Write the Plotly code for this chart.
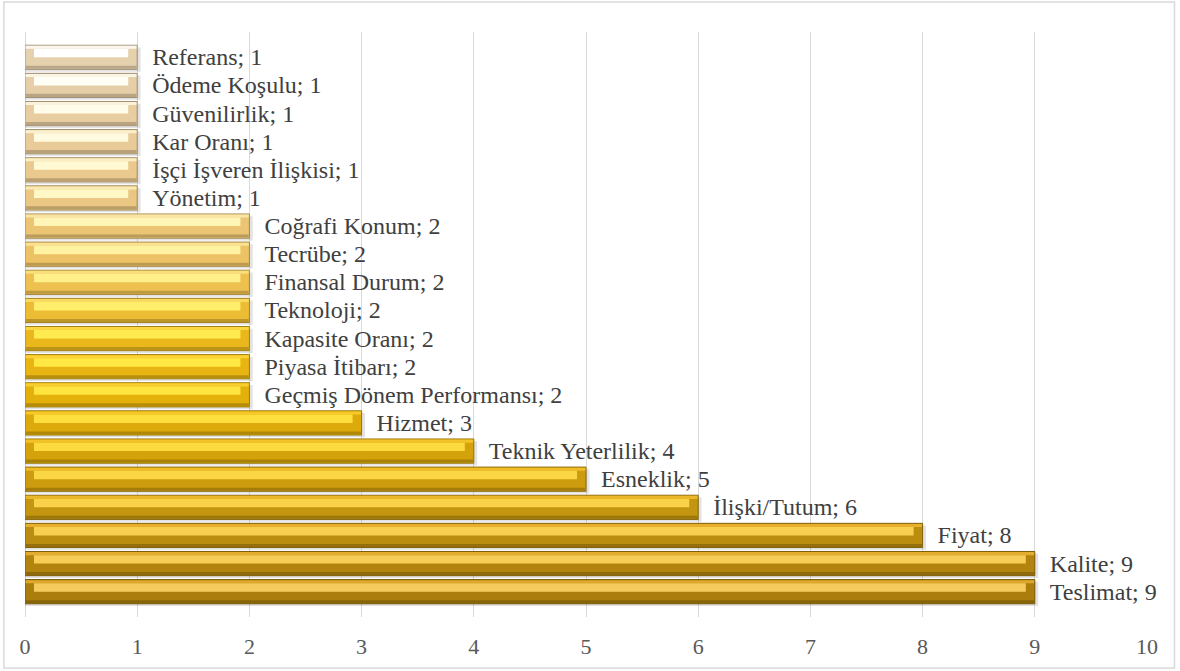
import plotly.graph_objects as go

# Data (bottom -> top)
categories = ["Teslimat", "Kalite", "Fiyat", "İlişki/Tutum", "Esneklik", "Teknik Yeterlilik",
              "Hizmet", "Geçmiş Dönem Performansı", "Piyasa İtibarı", "Kapasite Oranı",
              "Teknoloji", "Finansal Durum", "Tecrübe", "Coğrafi Konum", "Yönetim",
              "İşçi İşveren İlişkisi", "Kar Oranı", "Güvenilirlik", "Ödeme Koşulu", "Referans"]
values = [9, 9, 8, 6, 5, 4, 3, 2, 2, 2, 2, 2, 2, 2, 1, 1, 1, 1, 1, 1]
tick_vals = [0, 1, 2, 3, 4, 5, 6, 7, 8, 9, 10]

# Styles (per bar)
hi_colors = ["#F6CB5E", "#F7CD58", "#F8CF50", "#FAD24A", "#FBD644", "#FCDA40", "#FEDE3C",
             "#FFE33E", "#FFE744", "#FFEA50", "#FFEE6C", "#FFF08A", "#FFF3A2", "#FFF5B6",
             "#FFF7C6", "#FFF9D4", "#FFFBE0", "#FFFCEA", "#FFFEF4", "#FFFFFF"]
body_colors = ["#AA7D0C", "#B2840E", "#BA8C10", "#C49510", "#CC9C0E", "#D4A30C", "#DCAA0A",
               "#E4B10C", "#E8B512", "#EAB81C", "#ECBC34", "#EDC050", "#ECC264", "#EBC474",
               "#EAC782", "#E9C98E", "#E8CB98", "#E7CDA0", "#E6CFA8", "#E6D1AE"]
top_colors = ["#DEA82C", "#E2AC2E", "#E6B02C", "#EAB62A", "#EEBC28", "#F2C226", "#F6C828",
              "#F8CE2E", "#FAD236", "#FAD642", "#FADA5E", "#FADE7A", "#FAE292", "#FAE6A4",
              "#FAEAB4", "#FAEEC2", "#FAF0CE", "#FAF2DA", "#FAF4E4", "#FAF6EC"]


def darken(hex_color, f):
    h = hex_color.lstrip("#")
    r, g, b = (int(h[i:i + 2], 16) for i in (0, 2, 4))
    return "#%02X%02X%02X" % (int(r * f), int(g * f), int(b * f))


dark_colors = [darken(c, 0.80) for c in body_colors]
edge_colors = [darken(c, 0.70) for c in body_colors]

FONT = "Liberation Serif, Times New Roman, serif"
W = 0.86
bevel = 0.08

labels = ["\u00a0\u00a0" + c + "; " + str(v) for c, v in zip(categories, values)]

fig = go.Figure()

# soft shadow
fig.add_trace(go.Bar(
    y=categories, x=[v + 0.03 for v in values], orientation="h",
    offset=-W / 2 - 0.08, width=W,
    marker=dict(color="rgba(80,80,80,0.16)", line=dict(width=0)),
    hoverinfo="skip", showlegend=False))

# full bar with label
fig.add_trace(go.Bar(
    y=categories, x=values, orientation="h",
    offset=-W / 2, width=W,
    marker=dict(color=body_colors, line=dict(color=edge_colors, width=1)),
    text=labels, textposition="outside", constraintext="none", cliponaxis=False,
    textfont=dict(family=FONT, size=24, color="#404040"),
    hoverinfo="skip", showlegend=False))

# bottom facet
fig.add_trace(go.Bar(
    y=categories, x=[v - 0.012 for v in values], base=0.006, orientation="h",
    offset=-W / 2 + 0.02, width=0.11,
    marker=dict(color=dark_colors, line=dict(width=0)),
    hoverinfo="skip", showlegend=False))

# top facet
fig.add_trace(go.Bar(
    y=categories, x=[v - 0.012 for v in values], base=0.006, orientation="h",
    offset=W / 2 - 0.13, width=0.11,
    marker=dict(color=top_colors, line=dict(width=0)),
    hoverinfo="skip", showlegend=False))

# highlight band
fig.add_trace(go.Bar(
    y=categories, x=[v - 2 * bevel for v in values], base=bevel, orientation="h",
    offset=0.0, width=W / 2 - 0.13,
    marker=dict(color=hi_colors, line=dict(width=0)),
    hoverinfo="skip", showlegend=False))

fig.update_layout(
    width=1180, height=671,
    margin=dict(l=25, r=33, t=32, b=54),
    barmode="overlay",
    paper_bgcolor="white", plot_bgcolor="white",
    font=dict(family=FONT, color="#595959"),
    showlegend=False,
    xaxis=dict(range=[0, 10], tickvals=tick_vals, showgrid=True, gridcolor="#D9D9D9",
               gridwidth=1, zeroline=True, zerolinecolor="#D9D9D9", zerolinewidth=1,
               showline=False, ticks="", ticklabelstandoff=14,
               tickfont=dict(family=FONT, size=22, color="#595959"), fixedrange=True),
    yaxis=dict(categoryorder="array", categoryarray=categories,
               range=[-0.9, 19.9], showticklabels=False, showgrid=False,
               zeroline=False, ticks="", fixedrange=True),
    shapes=[dict(type="rect", xref="paper", yref="paper",
                 x0=-0.0188, x1=1.0245, y0=-0.0872, y1=1.0513,
                 line=dict(color="#D9D9D9", width=1.5), layer="below")],
)

fig.write_html("out.html", config={"displayModeBar": False},
               post_script="document.body.style.margin='0';document.body.style.overflow='hidden';")
